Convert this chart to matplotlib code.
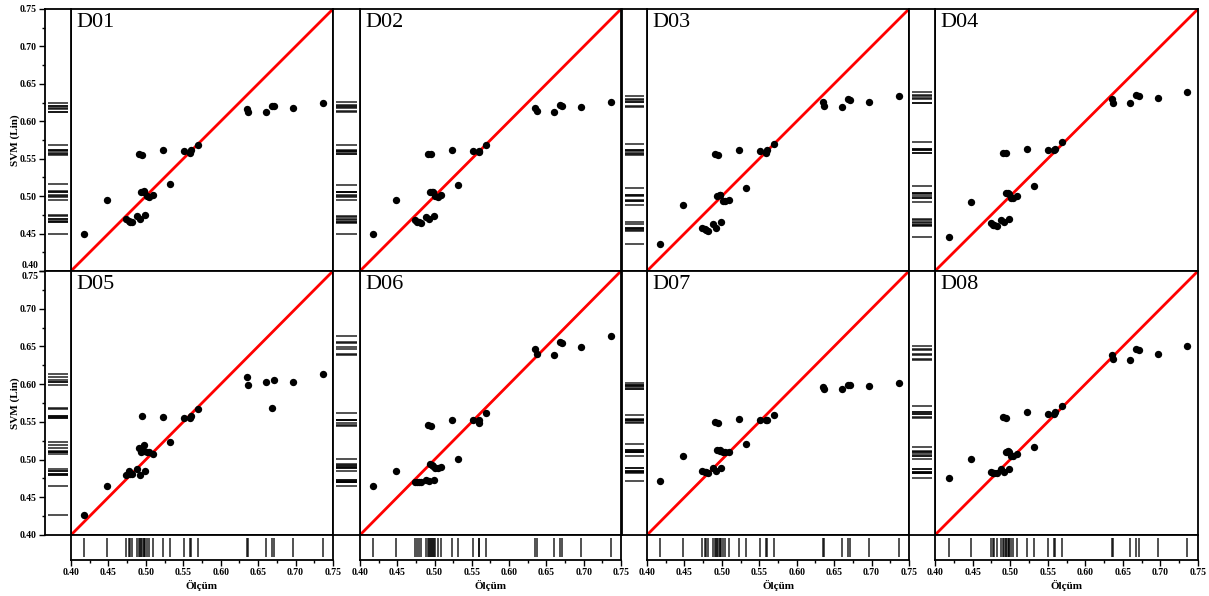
import matplotlib
matplotlib.use("Agg")
import matplotlib.pyplot as plt
from matplotlib.ticker import MultipleLocator, FuncFormatter

plt.rcParams['font.family'] = ['Liberation Serif', 'DejaVu Serif']

# measured values (Ölçüm), shared by all panels
olcum = [0.418, 0.448, 0.474, 0.477, 0.479, 0.482, 0.488, 0.491, 0.492, 0.494,
         0.495, 0.497, 0.498, 0.499, 0.501, 0.504, 0.509, 0.523, 0.532, 0.551,
         0.559, 0.560, 0.569, 0.635, 0.637, 0.660, 0.668, 0.671, 0.697, 0.736]

names = ["D01", "D02", "D03", "D04", "D05", "D06", "D07", "D08"]

d01 = [0.450, 0.495, 0.469, 0.467, 0.466, 0.465, 0.473, 0.556, 0.469, 0.506,
       0.555, 0.505, 0.507, 0.475, 0.500, 0.499, 0.502, 0.561, 0.516, 0.560,
       0.558, 0.561, 0.568, 0.617, 0.613, 0.612, 0.621, 0.621, 0.618, 0.624]
d02 = [0.449, 0.495, 0.468, 0.466, 0.465, 0.464, 0.472, 0.556, 0.469, 0.505,
       0.556, 0.506, 0.505, 0.473, 0.500, 0.499, 0.501, 0.561, 0.515, 0.560,
       0.559, 0.560, 0.568, 0.618, 0.614, 0.613, 0.622, 0.621, 0.619, 0.626]
d03 = [0.436, 0.488, 0.457, 0.456, 0.455, 0.454, 0.463, 0.556, 0.458, 0.500,
       0.555, 0.501, 0.502, 0.465, 0.494, 0.494, 0.495, 0.562, 0.511, 0.560,
       0.558, 0.562, 0.570, 0.626, 0.620, 0.619, 0.630, 0.629, 0.626, 0.634]
d04 = [0.446, 0.492, 0.464, 0.462, 0.461, 0.460, 0.468, 0.558, 0.465, 0.504,
       0.557, 0.504, 0.503, 0.470, 0.497, 0.497, 0.500, 0.563, 0.513, 0.562,
       0.561, 0.563, 0.572, 0.630, 0.624, 0.624, 0.635, 0.634, 0.631, 0.639]
d05 = [0.427, 0.465, 0.479, 0.485, 0.481, 0.481, 0.488, 0.515, 0.480, 0.510,
       0.558, 0.512, 0.519, 0.485, 0.510, 0.510, 0.508, 0.556, 0.523, 0.555,
       0.555, 0.558, 0.567, 0.610, 0.599, 0.603, 0.569, 0.605, 0.603, 0.614]
d06 = [0.465, 0.485, 0.470, 0.470, 0.470, 0.470, 0.473, 0.546, 0.471, 0.494,
       0.544, 0.493, 0.492, 0.473, 0.489, 0.489, 0.490, 0.552, 0.501, 0.552,
       0.552, 0.548, 0.562, 0.647, 0.640, 0.638, 0.656, 0.654, 0.649, 0.664]
d07 = [0.471, 0.505, 0.485, 0.483, 0.483, 0.482, 0.489, 0.550, 0.485, 0.513,
       0.549, 0.513, 0.512, 0.489, 0.510, 0.510, 0.510, 0.554, 0.520, 0.553,
       0.553, 0.552, 0.559, 0.596, 0.593, 0.593, 0.599, 0.599, 0.597, 0.602]
d08 = [0.475, 0.501, 0.484, 0.482, 0.482, 0.482, 0.487, 0.557, 0.484, 0.510,
       0.555, 0.511, 0.510, 0.488, 0.505, 0.505, 0.507, 0.563, 0.517, 0.561,
       0.561, 0.563, 0.571, 0.639, 0.633, 0.632, 0.646, 0.645, 0.640, 0.651]
svm = [d01, d02, d03, d04, d05, d06, d07, d08]

lims = (0.40, 0.75)

W, H = 1209, 596
fig = plt.figure(figsize=(W / 100, H / 100), dpi=100)


def px(x0, y0, x1, y1):
    # pixel box (top-left origin) -> figure fraction rect
    return [x0 / W, 1 - y1 / H, (x1 - x0) / W, (y1 - y0) / H]


cols = [(45, 71, 333), (333, 360, 621), (622, 647, 909), (909, 935, 1198)]
rows = [(9, 271), (271, 535)]
rug_bottom = (535, 560)

for i in range(8):
    r, c = divmod(i, 4)
    xr0, xm0, xm1 = cols[c]
    ym0, ym1 = rows[r]

    # main scatter panel
    ax = fig.add_axes(px(xm0, ym0, xm1, ym1))
    ax.plot(lims, lims, color="#ff0000", lw=2, zorder=2)
    ax.scatter(olcum, svm[i], s=28, color="black", zorder=3, linewidths=0)
    ax.set_xlim(lims)
    ax.set_ylim(lims)
    ax.set_xticks([])
    ax.set_yticks([])
    ax.text(0.02, 0.985, names[i], transform=ax.transAxes, ha="left", va="top",
            fontsize=16)
    for s in ax.spines.values():
        s.set_linewidth(1.3)

    # left rug of predicted values
    rl = fig.add_axes(px(xr0, ym0, xm0, ym1))
    rl.hlines(svm[i], 0.1, 0.9, color="black", lw=1.2, alpha=0.8)
    rl.set_xlim(0, 1)
    rl.set_ylim(lims)
    rl.set_xticks([])
    for s in rl.spines.values():
        s.set_linewidth(1.3)
    if c == 0:
        # the label at the shared row edge is drawn by hand, shifted off the edge
        edge = lims[0] if r == 0 else lims[1]
        rl.yaxis.set_major_locator(MultipleLocator(0.05))
        rl.yaxis.set_minor_locator(MultipleLocator(0.025))
        rl.yaxis.set_major_formatter(FuncFormatter(
            lambda v, p, e=edge: "" if abs(v - e) < 1e-6 else f"{v:.2f}"))
        rl.tick_params(axis="y", which="major", length=4, width=1, labelsize=7, pad=2)
        rl.tick_params(axis="y", which="minor", length=2, width=1)
        for lab in rl.get_yticklabels():
            lab.set_fontweight("bold")
        rl.annotate(f"{edge:.2f}", xy=(0, edge), xycoords=("axes fraction", "data"),
                    xytext=(-4.5, 1 if r == 0 else -1), textcoords="offset points",
                    ha="right", va="bottom" if r == 0 else "top",
                    fontsize=7, fontweight="bold", annotation_clip=False)
        rl.set_ylabel("SVM (Lin)", fontsize=8, fontweight="bold", labelpad=0)
    else:
        rl.set_yticks([])

    # bottom rug of measured values
    if r == 1:
        rb = fig.add_axes(px(xm0, rug_bottom[0], xm1, rug_bottom[1]))
        rb.vlines(olcum, 0.12, 0.88, color="black", lw=1.2, alpha=0.8)
        rb.set_xlim(lims)
        rb.set_ylim(0, 1)
        rb.set_yticks([])
        rb.xaxis.set_major_locator(MultipleLocator(0.05))
        rb.xaxis.set_minor_locator(MultipleLocator(0.025))
        rb.xaxis.set_major_formatter(FuncFormatter(lambda v, p: f"{v:.2f}"))
        rb.tick_params(axis="x", which="major", length=4, width=1, labelsize=7, pad=2)
        rb.tick_params(axis="x", which="minor", length=2, width=1)
        for lab in rb.get_xticklabels():
            lab.set_fontweight("bold")
        rb.set_xlabel("Ölçüm", fontsize=8, fontweight="bold", labelpad=2)
        for s in rb.spines.values():
            s.set_linewidth(1.3)

fig.savefig("out.png", dpi=100, facecolor="white")
